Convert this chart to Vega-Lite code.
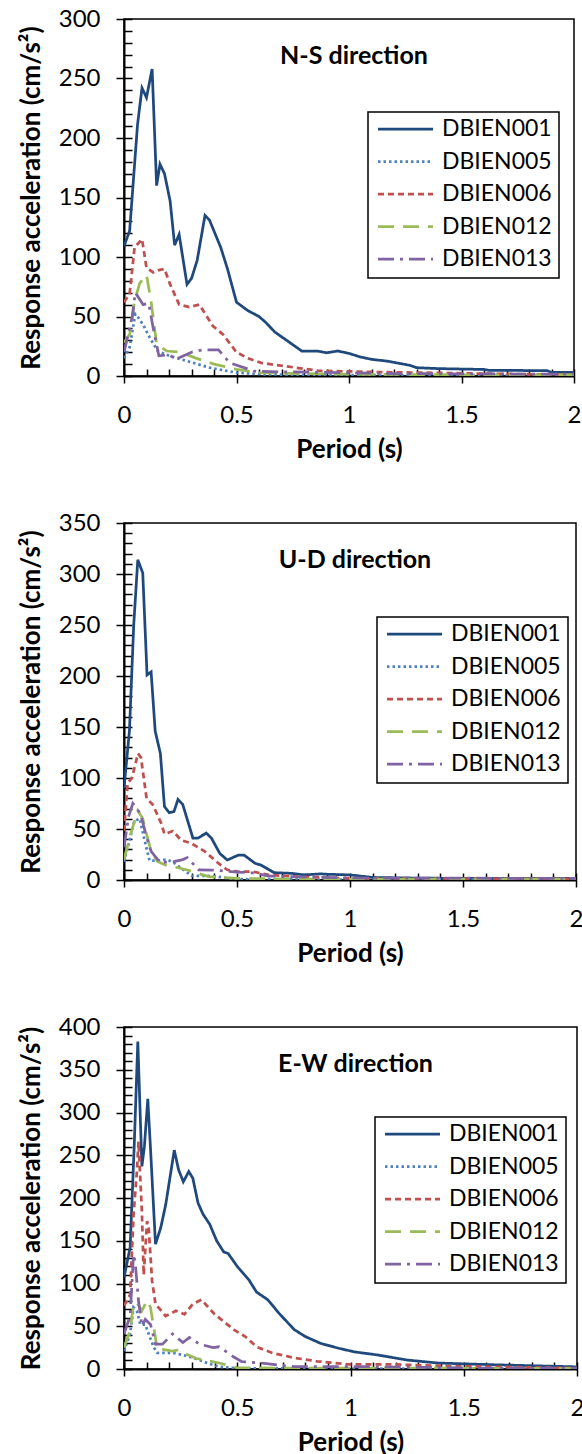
{
"$schema": "https://vega.github.io/schema/vega-lite/v6.json",
"padding": {"left": 17, "top": 6, "right": 5, "bottom": 5},
"bounds": "flush",
"spacing": 147,
"resolve": {"scale": {"color": "independent", "strokeDash": "independent"}},
"config": {
  "font": "Lato",
  "view": {"stroke": "#000", "strokeWidth": 1.5},
  "axis": {"grid": false, "domainColor": "#000", "domainWidth": 2, "tickColor": "#000", "tickWidth": 1.5, "labelColor": "#000", "labelFont": "Lato", "labelFontSize": 24, "titleFont": "Lato", "titleFontSize": 26, "titleFontWeight": "bold", "titleColor": "#000", "labelFlush": false, "labelOverlap": false},
  "title": {"font": "Lato", "fontSize": 25, "fontWeight": "bold", "color": "#000", "anchor": "middle", "baseline": "top", "offset": -62, "dx": 5},
  "legend": {"labelFont": "Lato", "labelFontSize": 23, "labelColor": "#000", "symbolType": "M-5.5,0H5.5", "symbolSize": 100, "symbolStrokeWidth": 2.75, "symbolOffset": 19, "labelOffset": 25, "clipHeight": 20, "rowPadding": 9.5, "padding": 7, "strokeColor": "#000", "strokeWidth": 1.5, "fillColor": "#fff"}
},
"datasets": {
"ns": [
{"s":"DBIEN001","T":0,"A":109},{"s":"DBIEN001","T":0.025,"A":122},{"s":"DBIEN001","T":0.04,"A":160},{"s":"DBIEN001","T":0.06,"A":211},{"s":"DBIEN001","T":0.08,"A":242},{"s":"DBIEN001","T":0.1,"A":234},{"s":"DBIEN001","T":0.125,"A":258},{"s":"DBIEN001","T":0.145,"A":160},{"s":"DBIEN001","T":0.16,"A":178},{"s":"DBIEN001","T":0.18,"A":170},{"s":"DBIEN001","T":0.205,"A":147},{"s":"DBIEN001","T":0.225,"A":110},{"s":"DBIEN001","T":0.245,"A":119},{"s":"DBIEN001","T":0.28,"A":77},{"s":"DBIEN001","T":0.3,"A":82},{"s":"DBIEN001","T":0.325,"A":97},{"s":"DBIEN001","T":0.36,"A":135},{"s":"DBIEN001","T":0.38,"A":131},{"s":"DBIEN001","T":0.43,"A":108},{"s":"DBIEN001","T":0.46,"A":90},{"s":"DBIEN001","T":0.5,"A":62},{"s":"DBIEN001","T":0.55,"A":55},{"s":"DBIEN001","T":0.6,"A":50},{"s":"DBIEN001","T":0.63,"A":45},{"s":"DBIEN001","T":0.67,"A":37},{"s":"DBIEN001","T":0.73,"A":29},{"s":"DBIEN001","T":0.79,"A":21},{"s":"DBIEN001","T":0.86,"A":21},{"s":"DBIEN001","T":0.9,"A":19.5},{"s":"DBIEN001","T":0.95,"A":21},{"s":"DBIEN001","T":1.0,"A":19},{"s":"DBIEN001","T":1.05,"A":16},{"s":"DBIEN001","T":1.1,"A":14},{"s":"DBIEN001","T":1.17,"A":12.5},{"s":"DBIEN001","T":1.27,"A":9},{"s":"DBIEN001","T":1.3,"A":7},{"s":"DBIEN001","T":1.4,"A":6.2},{"s":"DBIEN001","T":1.6,"A":5.5},{"s":"DBIEN001","T":1.62,"A":4.8},{"s":"DBIEN001","T":1.88,"A":4.5},{"s":"DBIEN001","T":1.9,"A":3},{"s":"DBIEN001","T":2.0,"A":3},
{"s":"DBIEN005","T":0,"A":15},{"s":"DBIEN005","T":0.025,"A":24},{"s":"DBIEN005","T":0.05,"A":52},{"s":"DBIEN005","T":0.06,"A":50},{"s":"DBIEN005","T":0.085,"A":43},{"s":"DBIEN005","T":0.115,"A":32},{"s":"DBIEN005","T":0.15,"A":21},{"s":"DBIEN005","T":0.2,"A":17},{"s":"DBIEN005","T":0.28,"A":12.6},{"s":"DBIEN005","T":0.38,"A":7},{"s":"DBIEN005","T":0.5,"A":2.8},{"s":"DBIEN005","T":0.62,"A":1.4},{"s":"DBIEN005","T":0.8,"A":1},{"s":"DBIEN005","T":1.0,"A":0.8},{"s":"DBIEN005","T":1.5,"A":0.5},{"s":"DBIEN005","T":2.0,"A":0.4},
{"s":"DBIEN006","T":0,"A":62},{"s":"DBIEN006","T":0.025,"A":69},{"s":"DBIEN006","T":0.047,"A":108},{"s":"DBIEN006","T":0.08,"A":115},{"s":"DBIEN006","T":0.1,"A":91},{"s":"DBIEN006","T":0.13,"A":87},{"s":"DBIEN006","T":0.155,"A":89},{"s":"DBIEN006","T":0.18,"A":90},{"s":"DBIEN006","T":0.205,"A":77},{"s":"DBIEN006","T":0.245,"A":60},{"s":"DBIEN006","T":0.29,"A":58},{"s":"DBIEN006","T":0.335,"A":60},{"s":"DBIEN006","T":0.395,"A":42},{"s":"DBIEN006","T":0.44,"A":35},{"s":"DBIEN006","T":0.5,"A":20},{"s":"DBIEN006","T":0.55,"A":15},{"s":"DBIEN006","T":0.61,"A":11},{"s":"DBIEN006","T":0.71,"A":8.4},{"s":"DBIEN006","T":0.86,"A":4.5},{"s":"DBIEN006","T":1.1,"A":3.4},{"s":"DBIEN006","T":1.43,"A":2.5},{"s":"DBIEN006","T":1.6,"A":2},{"s":"DBIEN006","T":2.0,"A":1},
{"s":"DBIEN012","T":0,"A":28},{"s":"DBIEN012","T":0.025,"A":35},{"s":"DBIEN012","T":0.047,"A":63},{"s":"DBIEN012","T":0.07,"A":78},{"s":"DBIEN012","T":0.1,"A":85},{"s":"DBIEN012","T":0.12,"A":63},{"s":"DBIEN012","T":0.145,"A":27},{"s":"DBIEN012","T":0.19,"A":21},{"s":"DBIEN012","T":0.25,"A":20},{"s":"DBIEN012","T":0.32,"A":15},{"s":"DBIEN012","T":0.4,"A":10},{"s":"DBIEN012","T":0.5,"A":5.6},{"s":"DBIEN012","T":0.6,"A":2.8},{"s":"DBIEN012","T":0.8,"A":2},{"s":"DBIEN012","T":1.0,"A":1.5},{"s":"DBIEN012","T":1.5,"A":1},{"s":"DBIEN012","T":2.0,"A":1},
{"s":"DBIEN013","T":0,"A":20},{"s":"DBIEN013","T":0.037,"A":50},{"s":"DBIEN013","T":0.05,"A":70},{"s":"DBIEN013","T":0.085,"A":60},{"s":"DBIEN013","T":0.11,"A":61},{"s":"DBIEN013","T":0.13,"A":40},{"s":"DBIEN013","T":0.155,"A":17},{"s":"DBIEN013","T":0.2,"A":18},{"s":"DBIEN013","T":0.23,"A":14},{"s":"DBIEN013","T":0.3,"A":20},{"s":"DBIEN013","T":0.35,"A":22},{"s":"DBIEN013","T":0.42,"A":22},{"s":"DBIEN013","T":0.47,"A":11},{"s":"DBIEN013","T":0.58,"A":4},{"s":"DBIEN013","T":0.7,"A":3.5},{"s":"DBIEN013","T":0.89,"A":3},{"s":"DBIEN013","T":1.2,"A":2},{"s":"DBIEN013","T":2.0,"A":1.5}
],
"ud": [
{"s":"DBIEN001","T":0,"A":90},{"s":"DBIEN001","T":0.024,"A":146},{"s":"DBIEN001","T":0.043,"A":250},{"s":"DBIEN001","T":0.061,"A":314},{"s":"DBIEN001","T":0.083,"A":301},{"s":"DBIEN001","T":0.102,"A":201},{"s":"DBIEN001","T":0.12,"A":204},{"s":"DBIEN001","T":0.138,"A":146},{"s":"DBIEN001","T":0.161,"A":124},{"s":"DBIEN001","T":0.179,"A":72},{"s":"DBIEN001","T":0.2,"A":66},{"s":"DBIEN001","T":0.221,"A":67},{"s":"DBIEN001","T":0.239,"A":79},{"s":"DBIEN001","T":0.26,"A":74},{"s":"DBIEN001","T":0.305,"A":41},{"s":"DBIEN001","T":0.327,"A":41},{"s":"DBIEN001","T":0.364,"A":46},{"s":"DBIEN001","T":0.387,"A":41},{"s":"DBIEN001","T":0.424,"A":26},{"s":"DBIEN001","T":0.457,"A":19.6},{"s":"DBIEN001","T":0.507,"A":24.5},{"s":"DBIEN001","T":0.531,"A":24.5},{"s":"DBIEN001","T":0.58,"A":16.3},{"s":"DBIEN001","T":0.605,"A":14.7},{"s":"DBIEN001","T":0.664,"A":7.2},{"s":"DBIEN001","T":0.74,"A":6.5},{"s":"DBIEN001","T":0.8,"A":5},{"s":"DBIEN001","T":0.87,"A":6},{"s":"DBIEN001","T":0.9,"A":5.6},{"s":"DBIEN001","T":1.0,"A":5},{"s":"DBIEN001","T":1.1,"A":2.5},{"s":"DBIEN001","T":1.25,"A":2},{"s":"DBIEN001","T":1.5,"A":1.5},{"s":"DBIEN001","T":2.0,"A":1.5},
{"s":"DBIEN005","T":0,"A":18},{"s":"DBIEN005","T":0.02,"A":35},{"s":"DBIEN005","T":0.046,"A":58},{"s":"DBIEN005","T":0.07,"A":60},{"s":"DBIEN005","T":0.09,"A":40},{"s":"DBIEN005","T":0.113,"A":19},{"s":"DBIEN005","T":0.145,"A":19},{"s":"DBIEN005","T":0.19,"A":20},{"s":"DBIEN005","T":0.22,"A":17},{"s":"DBIEN005","T":0.3,"A":4},{"s":"DBIEN005","T":0.39,"A":3.9},{"s":"DBIEN005","T":0.5,"A":0.8},{"s":"DBIEN005","T":0.7,"A":0.5},{"s":"DBIEN005","T":2.0,"A":0.3},
{"s":"DBIEN006","T":0,"A":48},{"s":"DBIEN006","T":0.016,"A":95},{"s":"DBIEN006","T":0.035,"A":100},{"s":"DBIEN006","T":0.062,"A":124},{"s":"DBIEN006","T":0.075,"A":120},{"s":"DBIEN006","T":0.1,"A":80},{"s":"DBIEN006","T":0.127,"A":74},{"s":"DBIEN006","T":0.164,"A":56},{"s":"DBIEN006","T":0.179,"A":45},{"s":"DBIEN006","T":0.216,"A":48},{"s":"DBIEN006","T":0.253,"A":39},{"s":"DBIEN006","T":0.298,"A":36},{"s":"DBIEN006","T":0.357,"A":28},{"s":"DBIEN006","T":0.42,"A":16},{"s":"DBIEN006","T":0.457,"A":10},{"s":"DBIEN006","T":0.5,"A":8.2},{"s":"DBIEN006","T":0.57,"A":8.2},{"s":"DBIEN006","T":0.64,"A":5},{"s":"DBIEN006","T":0.77,"A":3.3},{"s":"DBIEN006","T":1.0,"A":1.6},{"s":"DBIEN006","T":1.2,"A":1.5},{"s":"DBIEN006","T":2.0,"A":1},
{"s":"DBIEN012","T":0,"A":20},{"s":"DBIEN012","T":0.028,"A":44},{"s":"DBIEN012","T":0.061,"A":68},{"s":"DBIEN012","T":0.083,"A":60},{"s":"DBIEN012","T":0.1,"A":45},{"s":"DBIEN012","T":0.12,"A":28},{"s":"DBIEN012","T":0.15,"A":18},{"s":"DBIEN012","T":0.19,"A":14},{"s":"DBIEN012","T":0.24,"A":12},{"s":"DBIEN012","T":0.28,"A":9.8},{"s":"DBIEN012","T":0.375,"A":3.3},{"s":"DBIEN012","T":0.5,"A":1.6},{"s":"DBIEN012","T":0.7,"A":1},{"s":"DBIEN012","T":2.0,"A":0.8},
{"s":"DBIEN013","T":0,"A":32},{"s":"DBIEN013","T":0.02,"A":62},{"s":"DBIEN013","T":0.039,"A":75},{"s":"DBIEN013","T":0.073,"A":65},{"s":"DBIEN013","T":0.1,"A":42},{"s":"DBIEN013","T":0.12,"A":28},{"s":"DBIEN013","T":0.16,"A":17},{"s":"DBIEN013","T":0.22,"A":18},{"s":"DBIEN013","T":0.26,"A":20},{"s":"DBIEN013","T":0.28,"A":22},{"s":"DBIEN013","T":0.33,"A":10},{"s":"DBIEN013","T":0.39,"A":9.8},{"s":"DBIEN013","T":0.5,"A":7.8},{"s":"DBIEN013","T":0.57,"A":7},{"s":"DBIEN013","T":0.64,"A":3.9},{"s":"DBIEN013","T":0.77,"A":3},{"s":"DBIEN013","T":1.0,"A":2},{"s":"DBIEN013","T":2.0,"A":1.5}
],
"ew": [
{"s":"DBIEN001","T":0,"A":107},{"s":"DBIEN001","T":0.027,"A":142},{"s":"DBIEN001","T":0.045,"A":260},{"s":"DBIEN001","T":0.061,"A":383},{"s":"DBIEN001","T":0.079,"A":237},{"s":"DBIEN001","T":0.09,"A":260},{"s":"DBIEN001","T":0.105,"A":316},{"s":"DBIEN001","T":0.117,"A":258},{"s":"DBIEN001","T":0.139,"A":146},{"s":"DBIEN001","T":0.162,"A":165},{"s":"DBIEN001","T":0.184,"A":192},{"s":"DBIEN001","T":0.222,"A":256},{"s":"DBIEN001","T":0.241,"A":233},{"s":"DBIEN001","T":0.262,"A":219},{"s":"DBIEN001","T":0.286,"A":231},{"s":"DBIEN001","T":0.304,"A":223},{"s":"DBIEN001","T":0.327,"A":194},{"s":"DBIEN001","T":0.349,"A":181},{"s":"DBIEN001","T":0.379,"A":169},{"s":"DBIEN001","T":0.409,"A":150},{"s":"DBIEN001","T":0.44,"A":137},{"s":"DBIEN001","T":0.46,"A":135},{"s":"DBIEN001","T":0.5,"A":120},{"s":"DBIEN001","T":0.552,"A":104},{"s":"DBIEN001","T":0.585,"A":90},{"s":"DBIEN001","T":0.635,"A":81},{"s":"DBIEN001","T":0.685,"A":65},{"s":"DBIEN001","T":0.752,"A":46},{"s":"DBIEN001","T":0.8,"A":38},{"s":"DBIEN001","T":0.868,"A":30},{"s":"DBIEN001","T":0.951,"A":24},{"s":"DBIEN001","T":1.018,"A":20},{"s":"DBIEN001","T":1.12,"A":16.4},{"s":"DBIEN001","T":1.25,"A":10.5},{"s":"DBIEN001","T":1.385,"A":7},{"s":"DBIEN001","T":1.6,"A":5.2},{"s":"DBIEN001","T":2.0,"A":2.5},
{"s":"DBIEN005","T":0,"A":21},{"s":"DBIEN005","T":0.027,"A":41},{"s":"DBIEN005","T":0.042,"A":72},{"s":"DBIEN005","T":0.057,"A":68},{"s":"DBIEN005","T":0.072,"A":52},{"s":"DBIEN005","T":0.094,"A":52},{"s":"DBIEN005","T":0.109,"A":41},{"s":"DBIEN005","T":0.132,"A":25},{"s":"DBIEN005","T":0.147,"A":19},{"s":"DBIEN005","T":0.214,"A":19},{"s":"DBIEN005","T":0.274,"A":15.5},{"s":"DBIEN005","T":0.32,"A":11.7},{"s":"DBIEN005","T":0.38,"A":5.8},{"s":"DBIEN005","T":0.42,"A":2.7},{"s":"DBIEN005","T":0.5,"A":0.8},{"s":"DBIEN005","T":1.0,"A":0.5},{"s":"DBIEN005","T":2.0,"A":0.4},
{"s":"DBIEN006","T":0,"A":74},{"s":"DBIEN006","T":0.027,"A":87},{"s":"DBIEN006","T":0.042,"A":180},{"s":"DBIEN006","T":0.057,"A":231},{"s":"DBIEN006","T":0.064,"A":266},{"s":"DBIEN006","T":0.079,"A":184},{"s":"DBIEN006","T":0.087,"A":110},{"s":"DBIEN006","T":0.102,"A":173},{"s":"DBIEN006","T":0.109,"A":165},{"s":"DBIEN006","T":0.124,"A":103},{"s":"DBIEN006","T":0.139,"A":76},{"s":"DBIEN006","T":0.184,"A":62},{"s":"DBIEN006","T":0.229,"A":68},{"s":"DBIEN006","T":0.267,"A":64},{"s":"DBIEN006","T":0.304,"A":76},{"s":"DBIEN006","T":0.342,"A":81},{"s":"DBIEN006","T":0.4,"A":64},{"s":"DBIEN006","T":0.485,"A":46},{"s":"DBIEN006","T":0.535,"A":38},{"s":"DBIEN006","T":0.585,"A":26},{"s":"DBIEN006","T":0.652,"A":19},{"s":"DBIEN006","T":0.752,"A":13},{"s":"DBIEN006","T":0.853,"A":9},{"s":"DBIEN006","T":0.986,"A":5.5},{"s":"DBIEN006","T":1.17,"A":5.5},{"s":"DBIEN006","T":1.42,"A":3.5},{"s":"DBIEN006","T":2.0,"A":1},
{"s":"DBIEN012","T":0,"A":25},{"s":"DBIEN012","T":0.027,"A":45},{"s":"DBIEN012","T":0.042,"A":76},{"s":"DBIEN012","T":0.057,"A":78},{"s":"DBIEN012","T":0.079,"A":68},{"s":"DBIEN012","T":0.102,"A":80},{"s":"DBIEN012","T":0.117,"A":72},{"s":"DBIEN012","T":0.147,"A":23},{"s":"DBIEN012","T":0.17,"A":23},{"s":"DBIEN012","T":0.214,"A":21},{"s":"DBIEN012","T":0.236,"A":22},{"s":"DBIEN012","T":0.26,"A":19},{"s":"DBIEN012","T":0.32,"A":12.3},{"s":"DBIEN012","T":0.42,"A":7},{"s":"DBIEN012","T":0.5,"A":1.4},{"s":"DBIEN012","T":0.7,"A":1},{"s":"DBIEN012","T":2.0,"A":0.8},
{"s":"DBIEN013","T":0,"A":41},{"s":"DBIEN013","T":0.027,"A":62},{"s":"DBIEN013","T":0.042,"A":134},{"s":"DBIEN013","T":0.049,"A":126},{"s":"DBIEN013","T":0.064,"A":80},{"s":"DBIEN013","T":0.079,"A":50},{"s":"DBIEN013","T":0.094,"A":58},{"s":"DBIEN013","T":0.117,"A":52},{"s":"DBIEN013","T":0.139,"A":29},{"s":"DBIEN013","T":0.17,"A":29},{"s":"DBIEN013","T":0.214,"A":41},{"s":"DBIEN013","T":0.26,"A":31},{"s":"DBIEN013","T":0.289,"A":37},{"s":"DBIEN013","T":0.334,"A":29},{"s":"DBIEN013","T":0.394,"A":25},{"s":"DBIEN013","T":0.42,"A":26},{"s":"DBIEN013","T":0.485,"A":14},{"s":"DBIEN013","T":0.52,"A":8.6},{"s":"DBIEN013","T":0.62,"A":6.6},{"s":"DBIEN013","T":0.75,"A":2.7},{"s":"DBIEN013","T":1.08,"A":2.7},{"s":"DBIEN013","T":1.6,"A":1},{"s":"DBIEN013","T":2.0,"A":1}
]
},
"vconcat": [
{
  "data": {"name": "ns"},
  "width": 450, "height": 357,
  "title": {"text": "N-S direction"},
  "layer": [
    {"mark": {"type": "line", "strokeWidth": 2.75, "clip": true},
     "encoding": {
       "x": {"field": "T", "type": "quantitative", "scale": {"domain": [0, 2], "nice": false}, "axis": {"orient": "bottom", "values": [0, 0.5, 1, 1.5, 2], "format": "~g", "tickSize": 7, "labelPadding": 20, "title": "Period (s)", "titlePadding": 9}},
       "y": {"field": "A", "type": "quantitative", "scale": {"domain": [0, 300], "nice": false}, "axis": {"orient": "left", "values": [0, 50, 100, 150, 200, 250, 300], "format": "d", "tickSize": 8, "labelPadding": 16, "title": "Response acceleration (cm/s²)", "titlePadding": 14}},
       "color": {"field": "s", "type": "nominal", "scale": {"domain": ["DBIEN001", "DBIEN005", "DBIEN006", "DBIEN012", "DBIEN013"], "range": ["#1F497D", "#4F81BD", "#C0504D", "#9BBB59", "#8064A2"]}, "legend": {"orient": "none", "legendX": 244, "legendY": 93, "title": null}},
       "strokeDash": {"field": "s", "type": "nominal", "scale": {"domain": ["DBIEN001", "DBIEN005", "DBIEN006", "DBIEN012", "DBIEN013"], "range": [[1, 0], [2.5, 3], [6, 4], [16, 9], [16, 6, 3, 6]]}, "legend": {"orient": "none", "legendX": 244, "legendY": 93, "title": null}}
     }},
    {"mark": {"type": "line", "opacity": 0},
     "encoding": {
       "x": {"field": "T", "type": "quantitative", "axis": {"orient": "bottom", "values": [0,0.1,0.2,0.3,0.4,0.5,0.6,0.7,0.8,0.9,1,1.1,1.2,1.3,1.4,1.5,1.6,1.7,1.8,1.9,2], "tickSize": -7, "labels": false, "domain": false, "title": null}},
       "y": {"field": "A", "type": "quantitative", "axis": {"orient": "left", "values": [0,10,20,30,40,50,60,70,80,90,100,110,120,130,140,150,160,170,180,190,200,210,220,230,240,250,260,270,280,290,300], "tickSize": -8, "labels": false, "domain": false, "title": null}}
     }}
  ],
  "resolve": {"axis": {"x": "independent", "y": "independent"}}
},
{
  "data": {"name": "ud"},
  "width": 452, "height": 357,
  "title": {"text": "U-D direction"},
  "layer": [
    {"mark": {"type": "line", "strokeWidth": 2.75, "clip": true},
     "encoding": {
       "x": {"field": "T", "type": "quantitative", "scale": {"domain": [0, 2], "nice": false}, "axis": {"orient": "bottom", "values": [0, 0.5, 1, 1.5, 2], "format": "~g", "tickSize": 7, "labelPadding": 20, "title": "Period (s)", "titlePadding": 9}},
       "y": {"field": "A", "type": "quantitative", "scale": {"domain": [0, 350], "nice": false}, "axis": {"orient": "left", "values": [0, 50, 100, 150, 200, 250, 300, 350], "format": "d", "tickSize": 8, "labelPadding": 16, "title": "Response acceleration (cm/s²)", "titlePadding": 14}},
       "color": {"field": "s", "type": "nominal", "scale": {"domain": ["DBIEN001", "DBIEN005", "DBIEN006", "DBIEN012", "DBIEN013"], "range": ["#1F497D", "#4F81BD", "#C0504D", "#9BBB59", "#8064A2"]}, "legend": {"orient": "none", "legendX": 253, "legendY": 94, "title": null}},
       "strokeDash": {"field": "s", "type": "nominal", "scale": {"domain": ["DBIEN001", "DBIEN005", "DBIEN006", "DBIEN012", "DBIEN013"], "range": [[1, 0], [2.5, 3], [6, 4], [16, 9], [16, 6, 3, 6]]}, "legend": {"orient": "none", "legendX": 253, "legendY": 94, "title": null}}
     }},
    {"mark": {"type": "line", "opacity": 0},
     "encoding": {
       "x": {"field": "T", "type": "quantitative", "axis": {"orient": "bottom", "values": [0,0.1,0.2,0.3,0.4,0.5,0.6,0.7,0.8,0.9,1,1.1,1.2,1.3,1.4,1.5,1.6,1.7,1.8,1.9,2], "tickSize": -7, "labels": false, "domain": false, "title": null}},
       "y": {"field": "A", "type": "quantitative", "axis": {"orient": "left", "values": [0,10,20,30,40,50,60,70,80,90,100,110,120,130,140,150,160,170,180,190,200,210,220,230,240,250,260,270,280,290,300,310,320,330,340,350], "tickSize": -8, "labels": false, "domain": false, "title": null}}
     }}
  ],
  "resolve": {"axis": {"x": "independent", "y": "independent"}}
},
{
  "data": {"name": "ew"},
  "width": 453, "height": 342,
  "title": {"text": "E-W direction"},
  "layer": [
    {"mark": {"type": "line", "strokeWidth": 2.75, "clip": true},
     "encoding": {
       "x": {"field": "T", "type": "quantitative", "scale": {"domain": [0, 2], "nice": false}, "axis": {"orient": "bottom", "values": [0, 0.5, 1, 1.5, 2], "format": "~g", "tickSize": 7, "labelPadding": 20, "title": "Period (s)", "titlePadding": 9}},
       "y": {"field": "A", "type": "quantitative", "scale": {"domain": [0, 400], "nice": false}, "axis": {"orient": "left", "values": [0, 50, 100, 150, 200, 250, 300, 350, 400], "format": "d", "tickSize": 8, "labelPadding": 16, "title": "Response acceleration (cm/s²)", "titlePadding": 14}},
       "color": {"field": "s", "type": "nominal", "scale": {"domain": ["DBIEN001", "DBIEN005", "DBIEN006", "DBIEN012", "DBIEN013"], "range": ["#1F497D", "#4F81BD", "#C0504D", "#9BBB59", "#8064A2"]}, "legend": {"orient": "none", "legendX": 251, "legendY": 90, "title": null}},
       "strokeDash": {"field": "s", "type": "nominal", "scale": {"domain": ["DBIEN001", "DBIEN005", "DBIEN006", "DBIEN012", "DBIEN013"], "range": [[1, 0], [2.5, 3], [6, 4], [16, 9], [16, 6, 3, 6]]}, "legend": {"orient": "none", "legendX": 251, "legendY": 90, "title": null}}
     }},
    {"mark": {"type": "line", "opacity": 0},
     "encoding": {
       "x": {"field": "T", "type": "quantitative", "axis": {"orient": "bottom", "values": [0,0.1,0.2,0.3,0.4,0.5,0.6,0.7,0.8,0.9,1,1.1,1.2,1.3,1.4,1.5,1.6,1.7,1.8,1.9,2], "tickSize": -7, "labels": false, "domain": false, "title": null}},
       "y": {"field": "A", "type": "quantitative", "axis": {"orient": "left", "values": [0,10,20,30,40,50,60,70,80,90,100,110,120,130,140,150,160,170,180,190,200,210,220,230,240,250,260,270,280,290,300,310,320,330,340,350,360,370,380,390,400], "tickSize": -8, "labels": false, "domain": false, "title": null}}
     }}
  ],
  "resolve": {"axis": {"x": "independent", "y": "independent"}}
}
]
}
